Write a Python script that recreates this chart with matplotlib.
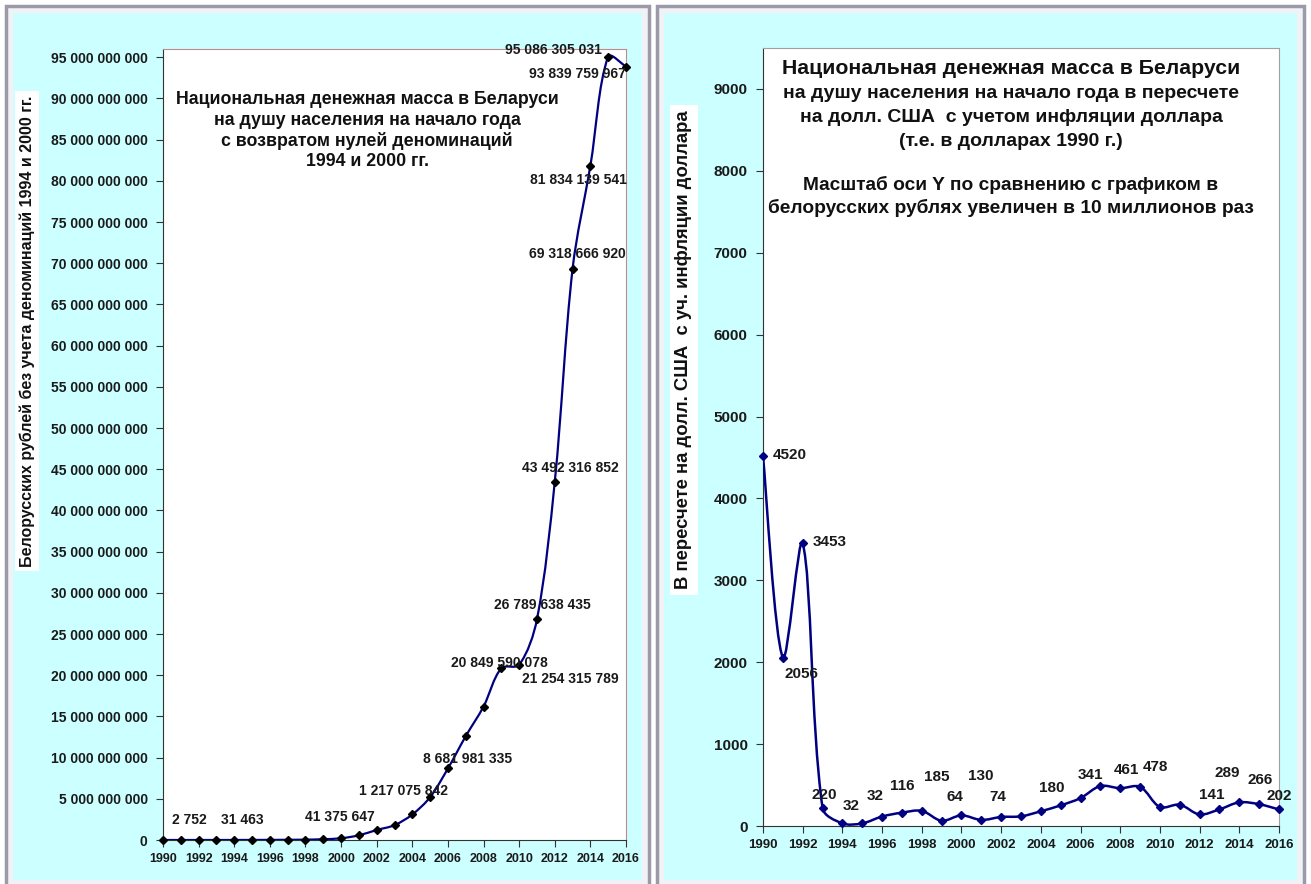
import numpy as np
import matplotlib.pyplot as plt
from matplotlib.path import Path
from matplotlib.patches import PathPatch, Rectangle
from matplotlib.ticker import FuncFormatter, MultipleLocator

plt.rcParams['font.family'] = ['Liberation Sans', 'DejaVu Sans']

years = list(range(1990, 2017))
# рубли на душу населения без учета деноминаций
rub_values = [2752, 5600, 31463, 290000, 1600000, 7500000, 13000000, 24000000,
              41375647, 95000000, 210000000, 570000000, 1217075842, 1800000000,
              3100000000, 5200000000, 8681981335, 12600000000, 16200000000,
              20849590078, 21254315789, 26789638435, 43492316852, 69318666920,
              81834139541, 95086305031, 93839759967]
# в долларах 1990 г.
usd_values = [4520, 2056, 3453, 220, 32, 32, 116, 163, 185, 64, 130, 74, 110, 118,
              180, 252, 341, 488, 461, 478, 232, 260, 141, 203, 289, 266, 202]

rub_label_years = [1990, 1992, 1998, 2002, 2006, 2009, 2010, 2011, 2012, 2013, 2014, 2015, 2016]
rub_label_offsets = [(26, 20), (44, 20), (34, 23), (27, 39), (20, 9), (-2, 5), (51, -14),
                     (5, 14), (16, 14), (5, 15), (-12, -14), (-55, 7), (-49, -7)]
usd_label_years = [1990, 1991, 1992, 1993, 1994, 1995, 1996, 1998, 1999, 2000, 2001,
                   2004, 2006, 2008, 2009, 2012, 2014, 2015, 2016]
usd_label_offsets = [(27, 1), (19, -16), (27, 1), (2, 13), (9, 17), (13, 27), (20, 31),
                     (15, 34), (13, 24), (19, 39), (17, 23), (11, 23), (10, 23), (6, 18),
                     (15, 20), (12, 19), (-12, 29), (1, 24), (0, 13)]

title_left = ['Национальная денежная масса в Беларуси',
              'на душу населения на начало года',
              'с возвратом нулей деноминаций',
              '1994 и 2000 гг.']
title_right = ['на душу населения на начало года в пересчете',
               'на долл. США  с учетом инфляции доллара',
               '(т.е. в долларах 1990 г.)']
note_right = ['Масштаб оси Y по сравнению с графиком в',
              'белорусских рублях увеличен в 10 миллионов раз']

W, H = 1311, 884
NAVY = '#000080'
CYAN = '#CCFFFF'


def fx(px):
    return px / W


def fy(py):
    return 1 - py / H


def smooth_path(ax, x, y):
    # сглаженная линия (кривые Безье через точки, касательные взвешены по длине отрезков)
    pts = np.column_stack([np.asarray(x, float), np.asarray(y, float)])
    disp = ax.transData.transform(pts)
    n = len(pts)
    seg = np.hypot(*np.diff(disp, axis=0).T)
    verts = [pts[0]]
    codes = [Path.MOVETO]
    for i in range(n - 1):
        p0 = pts[max(i - 1, 0)]
        p1, p2 = pts[i], pts[i + 1]
        p3 = pts[min(i + 2, n - 1)]
        d01 = seg[i - 1] if i > 0 else seg[i]
        d12 = seg[i]
        d23 = seg[i + 1] if i + 1 < n - 1 else seg[i]
        c1 = p1 + (p2 - p0) * d12 / (d01 + d12) / 3
        c2 = p2 - (p3 - p1) * d12 / (d12 + d23) / 3
        verts += [c1, c2, p2]
        codes += [Path.CURVE4] * 3
    return Path(verts, codes)


fig = plt.figure(figsize=(W / 100, H / 100), dpi=100)

# фоновые панели
for x0, x1 in [(6, 649), (657, 1304)]:
    fig.patches.append(Rectangle((fx(x0), fy(890)), fx(x1 - x0), (890 - 6) / H,
                                 transform=fig.transFigure, facecolor='#F2F2F6',
                                 edgecolor='#9A9AA8', linewidth=2.5, zorder=-2))
    fig.patches.append(Rectangle((fx(x0 + 7), fy(880)), fx(x1 - x0 - 14), (880 - 13) / H,
                                 transform=fig.transFigure, facecolor=CYAN,
                                 edgecolor='none', zorder=-1))

# левый график
ax1 = fig.add_axes([fx(163), fy(840), fx(626 - 163), (840 - 49) / H])
ax1.set_xlim(1990, 2016)
ax1.set_ylim(0, 96e9)
ax1.add_patch(PathPatch(smooth_path(ax1, years, rub_values), facecolor='none',
                        edgecolor=NAVY, linewidth=1.6, zorder=3))
ax1.plot(years, rub_values, linestyle='none', marker='D', markersize=4,
         color='black', zorder=4, clip_on=False)
ax1.yaxis.set_major_locator(MultipleLocator(5e9))
ax1.xaxis.set_major_locator(MultipleLocator(2))
ax1.yaxis.set_major_formatter(FuncFormatter(lambda v, p: f'{int(round(v)):,}'.replace(',', ' ')))
ax1.tick_params(axis='y', labelsize=10, length=5, color='#333333', pad=6)
ax1.tick_params(axis='x', labelsize=9, length=5, color='#333333', pad=4)
for lbl in ax1.get_xticklabels() + ax1.get_yticklabels():
    lbl.set_fontweight('bold')
    lbl.set_color('#1a1a1a')
for s in ['left', 'bottom']:
    ax1.spines[s].set_color('#333333')
for s in ['top', 'right']:
    ax1.spines[s].set_color('#C08890')
for yr, (dx, dy) in zip(rub_label_years, rub_label_offsets):
    v = rub_values[years.index(yr)]
    ax1.annotate(f'{v:,}'.replace(',', ' '), (yr, v), xytext=(dx, dy),
                 textcoords='offset pixels', ha='center', va='center',
                 fontsize=10, fontweight='bold', color='#1a1a1a',
                 annotation_clip=False, zorder=5)
for i, line in enumerate(title_left):
    fig.text(fx(367), fy(100 + i * 20.5), line, ha='center', va='center',
             fontsize=12.8, fontweight='bold', color='#111111')
fig.text(fx(27), fy(331), 'Белорусских рублей без учета деноминаций 1994 и 2000 гг.',
         rotation=90, ha='center', va='center', fontsize=11.5, color='#111111',
         fontweight='bold', bbox=dict(facecolor='white', edgecolor='none', pad=3))

# правый график
ax2 = fig.add_axes([fx(763), fy(826), fx(1279 - 763), (826 - 48) / H])
ax2.set_xlim(1990, 2016)
ax2.set_ylim(0, 9500)
ax2.add_patch(PathPatch(smooth_path(ax2, years, usd_values), facecolor='none',
                        edgecolor=NAVY, linewidth=1.8, zorder=3))
ax2.plot(years, usd_values, linestyle='none', marker='D', markersize=4.5,
         color=NAVY, zorder=4, clip_on=False)
ax2.yaxis.set_major_locator(MultipleLocator(1000))
ax2.xaxis.set_major_locator(MultipleLocator(2))
ax2.tick_params(axis='y', labelsize=11, length=5, color='#333333', pad=6)
ax2.tick_params(axis='x', labelsize=9.5, length=5, color='#333333', pad=4)
for lbl in ax2.get_xticklabels() + ax2.get_yticklabels():
    lbl.set_fontweight('bold')
    lbl.set_color('#1a1a1a')
for s in ['left', 'bottom']:
    ax2.spines[s].set_color('#333333')
for s in ['top', 'right']:
    ax2.spines[s].set_color('#A0A0A0')
for yr, (dx, dy) in zip(usd_label_years, usd_label_offsets):
    v = usd_values[years.index(yr)]
    ax2.annotate(str(v), (yr, v), xytext=(dx, dy), textcoords='offset pixels',
                 ha='center', va='center', fontsize=11, fontweight='bold',
                 color='#1a1a1a', annotation_clip=False, zorder=5)
fig.text(fx(1011), fy(69), 'Национальная денежная масса в Беларуси', ha='center',
         va='center', fontsize=15.3, fontweight='bold', color='#111111')
for i, line in enumerate(title_right):
    fig.text(fx(1011), fy(93 + i * 24), line, ha='center', va='center',
             fontsize=14, fontweight='bold', color='#111111')
for i, line in enumerate(note_right):
    fig.text(fx(1011), fy(185 + i * 23), line, ha='center', va='center',
             fontsize=13.8, fontweight='bold', color='#111111')
fig.text(fx(684), fy(350), 'В пересчете на долл. США  с уч. инфляции доллара',
         rotation=90, ha='center', va='center', fontsize=13.3, color='#111111',
         fontweight='bold', bbox=dict(facecolor='white', edgecolor='none', pad=4))

fig.savefig('out.png', dpi=100)
